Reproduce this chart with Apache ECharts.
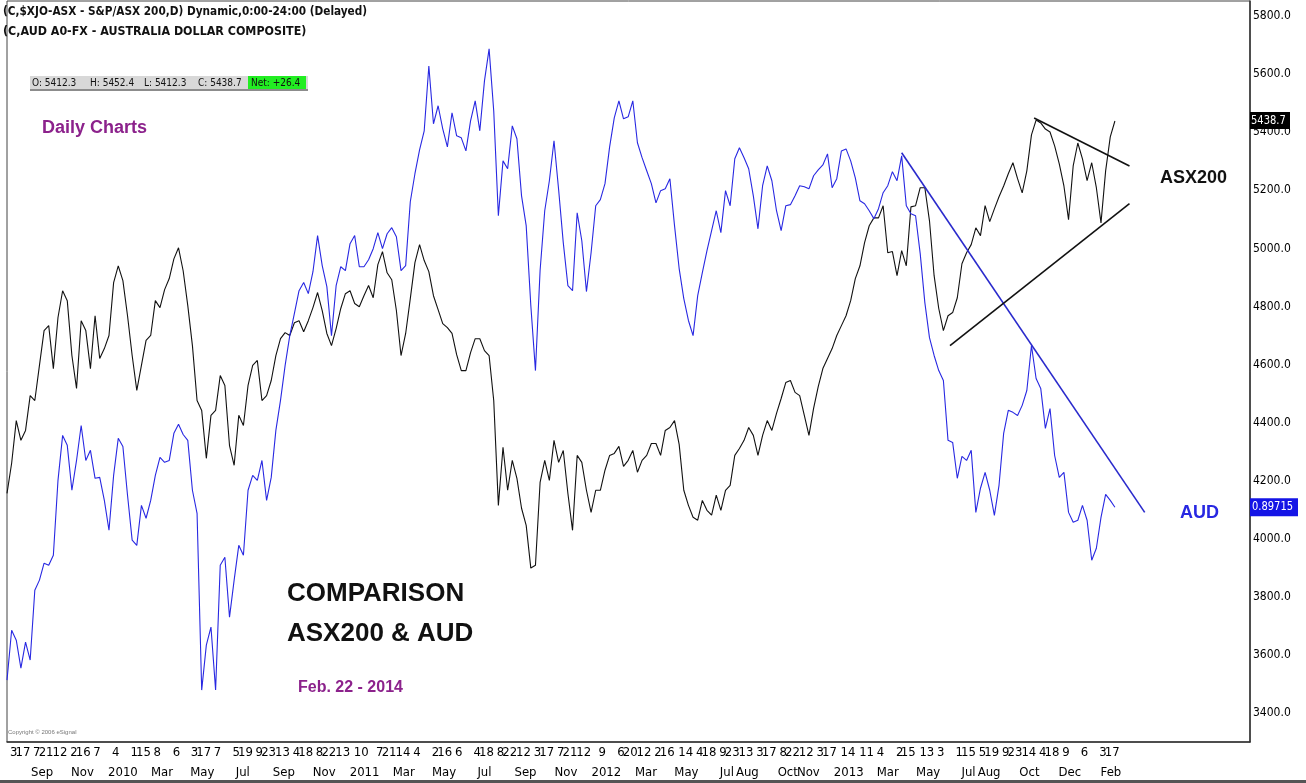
<!DOCTYPE html>
<html>
<head>
<meta charset="utf-8">
<script src="https://cdn.jsdelivr.net/npm/echarts@6/dist/echarts.min.js"></script>
<style>
html,body{margin:0;padding:0;background:#fff;}
#c{width:1306px;height:783px;}
</style>
</head>
<body>
<div id="c"></div>
<script>
// ---------- data (weekly closes) ----------
const firstWeek = '2009-07-24';          // first weekly sample (Friday)
const axisStart = '2009-07-24';
const axisEnd = '2014-09-13';

const asx200 = [4156,4260,4407,4339,4373,4493,4476,4597,4717,4734,
 4586,4762,4854,4820,4631,4518,4751,4717,4586,4768,
 4621,4655,4700,4882,4940,4889,4768,4631,4511,4597,
 4683,4700,4820,4796,4858,4896,4964,5002,4923,4803,
 4665,4476,4442,4277,4425,4442,4562,4528,4321,4253,
 4425,4390,4528,4597,4614,4476,4493,4545,4631,4689,
 4710,4700,4744,4751,4713,4751,4796,4848,4786,4707,
 4665,4724,4793,4844,4854,4810,4799,4837,4872,4830,
 4944,4989,4916,4892,4786,4631,4707,4827,4951,5013,
 4958,4920,4837,4789,4741,4727,4707,4634,4579,4579,
 4641,4689,4689,4648,4631,4476,4115,4315,4167,4270,
 4208,4105,4046,3899,3909,4194,4270,4201,4339,4263,
 4304,4156,4029,4287,4263,4167,4091,4167,4167,4236,
 4287,4294,4318,4249,4270,4304,4229,4270,4287,4328,
 4328,4287,4373,4383,4407,4325,4167,4115,4074,4064,
 4132,4098,4081,4150,4098,4167,4184,4287,4311,4339,
 4383,4356,4287,4356,4407,4373,4432,4483,4538,4545,
 4504,4493,4425,4356,4449,4524,4586,4621,4655,4700,
 4734,4768,4820,4896,4940,5020,5078,5105,5105,5147,
 4985,4989,4906,4992,4940,5143,5147,5209,5209,5095,
 4906,4793,4717,4768,4779,4830,4947,4985,5013,5071,
 5044,5147,5092,5136,5178,5215,5257,5295,5240,5191,
 5267,5391,5442,5432,5411,5401,5353,5291,5215,5099,
 5284,5363,5308,5233,5295,5209,5088,5267,5384,5438.7];

const aud = [0.8206,0.8427,0.8383,0.8259,0.8374,0.8295,0.8604,0.8649,0.8724,0.8715,
 0.8759,0.9091,0.9290,0.9246,0.9047,0.9179,0.9334,0.9179,0.9224,0.9100,
 0.9104,0.9002,0.8870,0.9113,0.9277,0.9241,0.9025,0.8826,0.8803,0.8980,
 0.8923,0.9002,0.9113,0.9193,0.9171,0.9179,0.9299,0.9339,0.9294,0.9268,
 0.9047,0.8945,0.8162,0.8361,0.8441,0.8162,0.8715,0.8750,0.8485,0.8649,
 0.8803,0.8759,0.9047,0.9113,0.9091,0.9179,0.9002,0.9104,0.9312,0.9445,
 0.9600,0.9732,0.9830,0.9931,0.9967,0.9918,1.0015,1.0175,1.0042,0.9949,
 0.9732,0.9953,1.0037,1.0020,1.0139,1.0175,1.0037,1.0037,1.0068,1.0117,
 1.0188,1.0117,1.0183,1.0210,1.0170,1.0020,1.0042,1.0325,1.0449,1.0555,
 1.0639,1.0926,1.0670,1.0750,1.0648,1.0568,1.0719,1.0617,1.0608,1.0550,
 1.0683,1.0772,1.0639,1.0860,1.1002,1.0727,1.0263,1.0506,1.0471,1.0661,
 1.0604,1.0351,1.0219,0.9865,0.9577,1.0020,1.0285,1.0418,1.0595,1.0378,
 1.0144,0.9953,0.9931,1.0276,1.0152,0.9927,1.0099,1.0307,1.0334,1.0405,
 1.0568,1.0696,1.0772,1.0692,1.0701,1.0772,1.0586,1.0520,1.0462,1.0405,
 1.0320,1.0374,1.0382,1.0427,1.0219,1.0029,0.9896,0.9799,0.9732,0.9909,
 1.0011,1.0108,1.0197,1.0285,1.0188,1.0374,1.0307,1.0515,1.0564,1.0520,
 1.0471,1.0351,1.0205,1.0396,1.0484,1.0418,1.0285,1.0197,1.0307,1.0312,
 1.0351,1.0396,1.0391,1.0382,1.0440,1.0466,1.0488,1.0537,1.0387,1.0427,
 1.0550,1.0559,1.0506,1.0431,1.0329,1.0316,1.0285,1.0250,1.0294,1.0365,
 1.0396,1.0458,1.0418,1.0528,1.0307,1.0272,1.0263,1.0095,0.9878,0.9723,
 0.9644,0.9577,0.9533,0.9268,0.9259,0.9100,0.9197,0.9179,0.9224,0.8949,
 0.9056,0.9126,0.9047,0.8936,0.9069,0.9299,0.9401,0.9392,0.9378,0.9423,
 0.9489,0.9688,0.9542,0.9498,0.9321,0.9409,0.9201,0.9104,0.9126,0.8949,
 0.8905,0.8914,0.8980,0.8914,0.8737,0.8790,0.8927,0.9029,0.9002,0.89715];

// drawn trend lines [date, value]
const audTrend = [['2013-04-05', 1.0542], ['2014-04-07', 0.8949]];
const asxUpperTrend = [['2013-10-22', 5449], ['2014-03-15', 5284]];
const asxLowerTrend = [['2013-06-17', 4665], ['2014-03-15', 5154]];

// axes
const asxTicks = [3400,3600,3800,4000,4200,4400,4600,4800,5000,5200,5400,5600,5800];
const asxRange = [3300, 5852];
const audRange = [0.7932, 1.1214];
const lastClose = 5438.7;
const lastAud = 0.89715;

const dayTickDates = [
 '2009-08-03','2009-08-17','2009-09-07','2009-09-21','2009-10-12','2009-11-02','2009-11-16','2009-12-07',
 '2010-01-04','2010-02-01','2010-02-15','2010-03-08','2010-04-06','2010-05-03','2010-05-17','2010-06-07',
 '2010-07-05','2010-07-19','2010-08-09','2010-08-23','2010-09-13','2010-10-04','2010-10-18','2010-11-08',
 '2010-11-22','2010-12-13',
 '2011-01-10','2011-02-07','2011-02-21','2011-03-14','2011-04-04','2011-05-02','2011-05-16','2011-06-06',
 '2011-07-04','2011-07-18','2011-08-08','2011-08-22','2011-09-12','2011-10-03','2011-10-17','2011-11-07',
 '2011-11-21','2011-12-12',
 '2012-01-09','2012-02-06','2012-02-20','2012-03-12','2012-04-02','2012-04-16','2012-05-14','2012-06-04',
 '2012-06-18','2012-07-09','2012-07-23','2012-08-13','2012-09-03','2012-09-17','2012-10-08','2012-10-22',
 '2012-11-12','2012-12-03','2012-12-17',
 '2013-01-14','2013-02-11','2013-03-04','2013-04-02','2013-04-15','2013-05-13','2013-06-03','2013-07-01',
 '2013-07-15','2013-08-05','2013-08-19','2013-09-09','2013-09-23','2013-10-14','2013-11-04','2013-11-18',
 '2013-12-09',
 '2014-01-06','2014-02-03','2014-02-17'];

const monthDates = ['2009-09-15','2009-11-15','2010-01-15','2010-03-15','2010-05-15','2010-07-15',
 '2010-09-15','2010-11-15','2011-01-15','2011-03-15','2011-05-15','2011-07-15','2011-09-15','2011-11-15',
 '2012-01-15','2012-03-15','2012-05-15','2012-07-15','2012-08-15','2012-10-15','2012-11-15','2013-01-15',
 '2013-03-15','2013-05-15','2013-07-15','2013-08-15','2013-10-15','2013-12-15','2014-02-15'];
const monthNames = ['Sep','Nov','2010','Mar','May','Jul','Sep','Nov','2011','Mar','May','Jul','Sep','Nov',
 '2012','Mar','May','Jul','Aug','Oct','Nov','2013','Mar','May','Jul','Aug','Oct','Dec','Feb'];

// ---------- build ----------
const DAY = 86400000;
function utc(s){ const p = s.split('-').map(Number); return Date.UTC(p[0], p[1]-1, p[2]); }
const t0 = utc(firstWeek);
const weekTimes = asx200.map((_, i) => t0 + i * 7 * DAY);
const asxData = asx200.map((v, i) => [weekTimes[i], v]);
const audData = aud.map((v, i) => [weekTimes[i], v]);
const toPairs = arr => arr.map(d => [utc(d[0]), d[1]]);
const monthMap = {};
monthDates.forEach((d, i) => { monthMap[utc(d)] = monthNames[i]; });
const dayTicksA = dayTickDates.filter((_, i) => i % 2 === 0).map(utc);
const dayTicksB = dayTickDates.filter((_, i) => i % 2 === 1).map(utc);

const NARROW = "'Liberation Sans Narrow','Arial Narrow','DejaVu Sans Condensed','Liberation Sans',sans-serif";
const SANS = "'Liberation Sans',Arial,sans-serif";
const BLUE = '#2828e2';
const PURPLE = '#8c228c';

const chart = echarts.init(document.getElementById('c'), null, {renderer: 'canvas'});
const xMin = utc(axisStart), xMax = utc(axisEnd);

const dayLabel = (ticks) => ({ customValues: ticks, hideOverlap: false,
  formatter: v => String(new Date(v).getUTCDate()),
  color: '#000', fontSize: 13, fontFamily: NARROW, margin: 4 });

chart.setOption({
  animation: false,
  backgroundColor: '#fff',
  grid: { left: 7, right: 56, top: 1, bottom: 41, show: true, borderColor: '#444', borderWidth: 1, containLabel: false },
  xAxis: [
    { type: 'value', min: xMin, max: xMax, position: 'bottom',
      axisLine: { show: true, lineStyle: { color: '#333', width: 1.5 } },
      axisTick: { show: false }, splitLine: { show: false },
      axisLabel: dayLabel(dayTicksA) },
    { type: 'value', min: xMin, max: xMax, position: 'bottom',
      axisLine: { show: false }, axisTick: { show: false }, splitLine: { show: false },
      axisLabel: dayLabel(dayTicksB) },
    { type: 'value', min: xMin, max: xMax, position: 'bottom', offset: 20,
      axisLine: { show: false }, axisTick: { show: false }, splitLine: { show: false },
      axisLabel: { customValues: monthDates.map(utc), hideOverlap: false,
        formatter: v => monthMap[v] || '',
        color: '#000', fontSize: 13, fontFamily: NARROW, margin: 4 } }
  ],
  yAxis: [
    { type: 'value', position: 'right', min: asxRange[0], max: asxRange[1],
      axisLine: { show: true, lineStyle: { color: '#333', width: 1.5 } },
      axisTick: { show: false }, splitLine: { show: false },
      axisLabel: { customValues: asxTicks, formatter: v => v.toFixed(1),
        color: '#000', fontSize: 12, fontFamily: NARROW, margin: 3 } },
    { type: 'value', show: false, min: audRange[0], max: audRange[1],
      axisLabel: { show: false }, splitLine: { show: false } }
  ],
  series: [
    { name: 'ASX200', type: 'line', data: asxData, xAxisIndex: 0, yAxisIndex: 0,
      showSymbol: false, lineStyle: { color: '#111', width: 1.1 }, z: 3 },
    { name: 'AUD', type: 'line', data: audData, xAxisIndex: 0, yAxisIndex: 1,
      showSymbol: false, lineStyle: { color: BLUE, width: 1.1 }, z: 3 },
    { name: 'AUD trend', type: 'line', data: toPairs(audTrend), xAxisIndex: 0, yAxisIndex: 1,
      showSymbol: false, lineStyle: { color: '#2a2acc', width: 1.6 }, z: 4 },
    { name: 'ASX upper', type: 'line', data: toPairs(asxUpperTrend), xAxisIndex: 0, yAxisIndex: 0,
      showSymbol: false, lineStyle: { color: '#111', width: 1.6 }, z: 4 },
    { name: 'ASX lower', type: 'line', data: toPairs(asxLowerTrend), xAxisIndex: 0, yAxisIndex: 0,
      showSymbol: false, lineStyle: { color: '#111', width: 1.6 }, z: 4 }
  ]
});

const yClose = chart.convertToPixel({ yAxisIndex: 0 }, lastClose);
const yAud = chart.convertToPixel({ yAxisIndex: 1 }, lastAud);

function txt(x, y, text, font, fill, extra) {
  return Object.assign({ type: 'text', x: x, y: y, z: 100,
    style: { text: text, font: font, fill: fill, textVerticalAlign: 'middle' } }, extra || {});
}

chart.setOption({
  graphic: [
    txt(3, 12, '(C,$XJO-ASX - S&P/ASX 200,D) Dynamic,0:00-24:00 (Delayed)', "bold 13px " + NARROW, '#111', { scaleX: 0.9 }),
    txt(3, 32, '(C,AUD A0-FX - AUSTRALIA DOLLAR COMPOSITE)', "bold 13px " + NARROW, '#111', { scaleX: 0.95 }),
    { type: 'rect', shape: { x: 30, y: 88, width: 278, height: 3 }, style: { fill: '#8c8c8c' }, z: 90 },
    { type: 'rect', shape: { x: 30, y: 76, width: 278, height: 13 }, style: { fill: '#d8d8d8' }, z: 91 },
    { type: 'rect', shape: { x: 248, y: 76, width: 58, height: 13 }, style: { fill: '#22ee22' }, z: 92 },
    txt(32, 83, 'O: 5412.3', "10px " + NARROW, '#111'),
    txt(90, 83, 'H: 5452.4', "10px " + NARROW, '#111'),
    txt(144, 83, 'L: 5412.3', "10px " + NARROW, '#111'),
    txt(198, 83, 'C: 5438.7', "10px " + NARROW, '#111'),
    txt(251, 83, 'Net: +26.4', "10px " + NARROW, '#111'),
    txt(42, 128, 'Daily Charts', "bold 18px " + SANS, PURPLE),
    txt(1160, 178, 'ASX200', "bold 18px " + SANS, '#111'),
    txt(1180, 513, 'AUD', "bold 18px " + SANS, BLUE),
    txt(287, 594, 'COMPARISON', "bold 26px " + SANS, '#111'),
    txt(287, 634, 'ASX200 & AUD', "bold 26px " + SANS, '#111'),
    txt(298, 688, 'Feb. 22 - 2014', "bold 16px " + SANS, PURPLE),
    txt(8, 732, 'Copyright \u00A9 2006 eSignal', "6px " + SANS, '#777'),
    { type: 'rect', shape: { x: 1250, y: yClose - 9, width: 40, height: 17 }, style: { fill: '#000' }, z: 100 },
    txt(1251, yClose, lastClose.toFixed(1), "12px " + NARROW, '#fff', { z: 101, scaleX: 0.92 }),
    { type: 'rect', shape: { x: 1250, y: yAud - 9, width: 48, height: 18 }, style: { fill: '#1414e6' }, z: 100 },
    txt(1252, yAud, String(lastAud), "12px " + NARROW, '#fff', { z: 101, scaleX: 0.92 }),
    { type: 'rect', shape: { x: 0, y: 780, width: 1306, height: 3 }, style: { fill: '#555' }, z: 100 }
  ]
});
</script>
</body>
</html>
